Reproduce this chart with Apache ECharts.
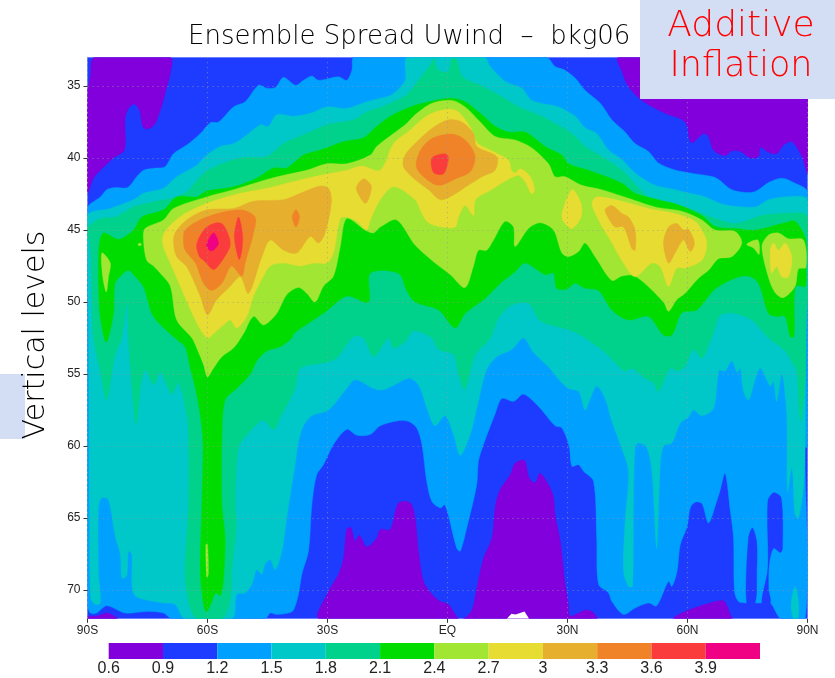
<!DOCTYPE html>
<html><head><meta charset="utf-8">
<style>html,body{margin:0;padding:0;background:#fff}#c{width:835px;height:678px}</style>
<script src="https://cdn.jsdelivr.net/npm/echarts@6/dist/echarts.min.js"></script>
</head><body><div id="c"></div>
<script>
// contour thresholds and band colours
const legendTicks=[0.6,0.9,1.2,1.5,1.8,2.1,2.4,2.7,3,3.3,3.6,3.9,4.2];
const bandColors=['#8200DC','#1E3CFF','#00A0FF','#00C8C8','#00D28C','#00DC00','#A0E632','#E6DC32','#E6AF2D','#F08228','#FA3C3C','#F00082'];
const latTicks=[-90,-60,-30,0,30,60,90];
const latLabels=['90S','60S','30S','EQ','30N','60N','90N'];
const levelTicks=[35,40,45,50,55,60,65,70];

// contour regions, as [latitude, vertical level]
const base09=[[-90,33],[90,33],[90,72],[-90,72]];
const ge12=[[-90,43.5],[-86.8,42.7],[-85.2,42.2],[-83.1,42.05],[-80,42.05],[-77.7,41.3],[-76,40.85],[-73.1,40.7],[-70.6,40.6],[-68.5,39.7],[-65.2,39.1],[-61.8,38.3],[-59.3,37.55],[-57.25,37.5],[-53.5,36.45],[-50.6,36.1],[-47.25,34.95],[-45.2,35.15],[-43,35.1],[-41,34.4],[-38,34.95],[-36,34.6],[-33.9,34.3],[-32.25,34.6],[-27.25,34.35],[-25.2,34.6],[-23.9,33.9],[-23.3,33],[24.7,33],[26.9,33.65],[29.4,33.9],[31.9,34.45],[34.4,35.3],[38.2,36.2],[41.1,37.35],[44.4,38.2],[46.9,39],[50.25,39.55],[52.75,40.35],[56.5,40.8],[59.8,41],[64.4,41.2],[67.3,41.4],[71.1,42.2],[75.7,42.4],[77.75,42.2],[80.25,41.7],[83.6,41.4],[86.9,41.75],[90,42.35],[90,60.1],[89.4,60.1],[89.4,72],[83.4,72],[80.7,70.9],[78.6,70.9],[74.4,70.9],[72.75,70.8],[71.75,70.1],[71.5,66.4],[70.7,64.5],[69.4,61.9],[68.1,63.15],[67.3,63.85],[65.25,65.35],[63.6,64],[61.9,63.9],[60.7,64.3],[59.9,65.6],[58.2,66.85],[57.4,68.7],[56.1,69.75],[55.25,69.4],[52.3,71.1],[50.25,70.9],[46.9,71.25],[44,71.7],[41.1,70.8],[40.25,70.2],[37.75,69.6],[37.3,66.4],[36.5,62.45],[34,61.75],[32.75,61.3],[31.1,61.4],[30.4,60],[28.6,58.75],[26.9,58.6],[22.75,57.25],[19,56.4],[16.5,56.9],[13.6,56.7],[12,57.7],[9,59.9],[7.75,61.05],[7.3,62.7],[4.8,65.7],[3.2,67.3],[2.3,67.1],[-0.6,64.1],[-1.8,64.3],[-3.9,63.85],[-5.2,62.45],[-6.4,59.9],[-7.7,58.75],[-9.75,58.3],[-12.25,58.25],[-16.8,58.6],[-19.3,59.2],[-22.7,59.25],[-25.2,58.85],[-28.5,59.9],[-31,61.3],[-32.7,62],[-33.9,64.1],[-34.75,67.3],[-36.4,68.9],[-37.25,70.3],[-38.5,71.4],[-39.75,71.6],[-42.7,71.7],[-44.3,71.6],[-45.6,72],[-68.9,72],[-71,71.6],[-75.2,71.5],[-80.6,71.6],[-85.2,71.1],[-87.7,71.6],[-89.3,71.6],[-90,71]];
const holeA=[[74.8,70.9],[75.25,66.4],[76.25,65.7],[77.3,66.7],[77.3,68.8],[76.9,70.9]];
const holeB=[[78.6,70.9],[80.1,68.5],[80.1,63.85],[81.5,63.25],[83.4,63.6],[83.75,67.1],[83.2,67.4],[81.5,67.1],[80.4,68.2],[80.25,69.9],[80.7,70.9]];
const purpleTopLeft=[[-88.25,33],[-69.3,33],[-69.3,34.1],[-70.6,35.5],[-71.8,36.7],[-73.3,37.7],[-75.2,38],[-76.2,37.8],[-77,36.7],[-78.3,36.25],[-79.75,36.55],[-80.6,37.25],[-80.8,39.45],[-83.5,40],[-86.8,40.85],[-88.5,41.4],[-90,42.45],[-90,35.4],[-89.3,34.35]];
const purpleTopRight=[[42.75,33],[43.6,34],[45.25,35.05],[48.6,36],[54.4,36.9],[59.4,37.5],[60.7,38.87],[61.5,38.9],[64,38.3],[65.25,38.5],[66.5,39.45],[69.4,39.85],[71.1,39.5],[73.2,39.55],[75.75,40],[77.75,39.9],[78.2,39.25],[80.25,39.6],[82.3,39.7],[84,39.1],[86.1,38.87],[88.6,39.9],[90,41.07],[90,33]];
const purpleBottom=[[-32,72],[-29.75,70.1],[-27.25,68.9],[-26,67.8],[-25.2,65.8],[-24.2,65.65],[-23.1,66.6],[-22,66.2],[-20.2,67],[-17.7,66.4],[-16.8,65.8],[-14.3,65.8],[-12.25,63.95],[-9.3,63.95],[-8.1,65],[-7.25,67.3],[-6,69.4],[-3.9,70.3],[-1.8,70.8],[0.25,71],[2.75,72],[4,72],[6.1,71.4],[7.3,69.9],[9,67.8],[11.1,66.4],[12,64.1],[13.2,63],[15.7,62],[16.9,61.2],[19.25,61],[20.25,62.1],[21.25,62.5],[22.1,62.5],[23.2,61.9],[26.25,63.3],[26.9,64.8],[28.2,66.6],[29.4,69.6],[30.25,71],[30.7,71.8],[34.4,71.4],[36.1,71.5],[37.3,72]];
const purpleBottomLeft=[[-90,71.85],[-87.5,71.8],[-85.2,71.6],[-84,71.7],[-82.5,72],[-90,72]];
const purpleBottomRight=[[56.5,72],[57.75,71.7],[61.1,71.3],[64.4,71],[69,70.75],[70.7,71.7],[71.1,72]];
const ge15=[[-90,43.96],[-84.3,43.5],[-78.5,42.9],[-76,42.45],[-71,42.1],[-67.7,41.3],[-62.7,40.5],[-60.2,39.8],[-56.8,39.2],[-53.5,39],[-50.2,38.4],[-46.8,37.7],[-44.75,37.8],[-42.7,37],[-38.5,37.1],[-34.3,36.9],[-30.2,36.45],[-25.2,36.55],[-20.2,36.1],[-16.8,35.85],[-13.9,35.6],[-10.6,34.6],[-10,33],[9.2,33],[10.7,33.65],[14.5,34.7],[18.6,35.15],[21.1,36],[27.75,36.45],[31.9,37.1],[34.4,37.9],[37.3,38.3],[40.25,39.45],[43.6,40.1],[46.9,41.05],[51.9,41.9],[56.9,42.2],[59.8,42.4],[64.4,42.7],[69.4,43.25],[77,43.4],[80.25,42.9],[84.4,42.7],[90,42.9],[89.6,50],[89.5,54.8],[89.4,60.1],[89,62.9],[87.75,65],[86.9,64.8],[86.1,61.5],[85,63.2],[84.8,57.8],[83.6,55],[82.3,56.9],[81.5,55.5],[80.7,55.85],[78.2,54.6],[77,55.3],[75.3,56.8],[74,56.2],[73.2,54.6],[72.4,54.9],[71.1,54.1],[69.4,54.8],[67.9,54.75],[66.5,57.4],[63.6,57.9],[61.5,57.5],[60.25,58],[58.2,58.4],[56.1,59.8],[54,60],[53.2,61.3],[52.3,67.1],[51.1,61.75],[49.8,60.1],[47.75,59.8],[46.9,60.1],[46.5,64.1],[46.25,69.75],[45.25,69.75],[44,68.7],[44.4,65.2],[45.25,61.75],[43.2,59.9],[41.1,58.3],[39.4,56.7],[37.3,55.85],[35.7,56.7],[34.4,57.5],[32.75,56.2],[30.25,56],[28.2,55.5],[25.25,54.5],[21.5,53.5],[19,52.5],[16.1,53.3],[12.3,53.8],[9.8,54.7],[7.3,57.4],[5.7,59.2],[3.2,60.65],[1.5,59.2],[-0.6,57.9],[-3.1,58.6],[-4.75,57.7],[-6.8,56],[-8.1,55.5],[-9.75,55.3],[-16,56.1],[-18.5,56],[-23.1,55.4],[-25.2,56],[-29.75,57.5],[-33.9,57.9],[-36,58.6],[-37.25,59.7],[-38.1,61.3],[-40.2,65],[-41.4,67.3],[-43.1,68.6],[-44.3,67.9],[-45.6,68.2],[-46.4,68.9],[-47.7,68.6],[-48.9,69.6],[-50.6,70.2],[-52.7,70.3],[-53.9,72],[-65.6,72],[-68.1,71],[-71,70.9],[-75.2,70.7],[-78.1,70.4],[-78.9,69.6],[-78.9,67.55],[-79.75,67.3],[-80.2,69],[-81.4,69.2],[-81.8,67.55],[-83.1,66.2],[-84.75,63.75],[-86.4,63.6],[-87.25,64.3],[-87.25,68.7],[-86.8,70.9],[-88.1,71],[-89.2,70.55],[-89.5,64.1],[-89.7,52],[-90,47]];
const teal15Corner=[[85.9,71],[86.9,69.75],[87.75,70.8],[87.6,72],[86.5,72]];
const ge18=[[-90,44.9],[-86.8,44.2],[-83.1,44.1],[-78.5,43.4],[-75.2,43.15],[-71,42.9],[-67.7,42.7],[-65.2,42.35],[-60.2,40.9],[-51.8,40],[-45.2,39.9],[-41,39],[-35.2,38.3],[-30.2,37.7],[-23.5,37.35],[-20.2,36.8],[-16,36.4],[-10.2,35.6],[-8.1,34.9],[-6,34.15],[-4.3,33.55],[-3.5,33.1],[-2.25,33.9],[0.25,34],[0.9,33.15],[2.3,33.15],[3.2,34.1],[4.4,34.5],[8.6,35],[13.6,35.75],[17.75,36.45],[22.75,37],[26.9,37.6],[31.1,38.3],[34.4,39.2],[38.6,39.9],[43.6,40.85],[50.25,42.7],[55.25,43.15],[60.25,43.5],[66,44.1],[71.9,44.55],[78.6,44],[83.6,43.85],[90,44.1],[89.6,52.5],[89.4,55.5],[88.2,58.3],[87.3,54.8],[86.5,54.35],[84.4,53.4],[80.25,52.5],[78.6,52],[76.1,51.25],[71.9,50.8],[68.2,50.9],[66.9,51.8],[66,52.5],[63.6,53.9],[61.5,53.3],[59.4,54.45],[57.75,54.8],[55.7,54.6],[52.75,56.2],[51.5,55.6],[49.4,55.3],[46.1,54.6],[44.4,54.8],[41.9,54.2],[39.4,53.5],[34.4,52.5],[31.1,52],[23.2,51.3],[20.3,50.1],[16.1,50.2],[12.8,51.1],[10.7,52.5],[7,53.65],[5.7,54.8],[4.25,56.1],[2.75,55],[1.5,53.65],[-2.25,53.3],[-3.9,52.5],[-8.5,52],[-10.6,52.75],[-13.5,53.2],[-14.75,52.5],[-18.5,53.8],[-21,52.5],[-23.5,52.4],[-27.7,53.9],[-30.6,54.2],[-36.8,54.6],[-38.1,56],[-41.8,58],[-43.5,58.85],[-46,58.2],[-48.1,58.6],[-49.75,59.1],[-52.25,60.1],[-53.1,64.1],[-52.8,65.7],[-53.9,68.5],[-54.3,70.6],[-56.4,72],[-62.7,72],[-64.75,70.8],[-65.6,68.7],[-64.75,64.1],[-64.75,59.4],[-65.2,57.8],[-67.25,55.6],[-68.9,56.4],[-71.8,54.9],[-73.5,55.75],[-75.6,54.7],[-76.8,56],[-77.8,58.5],[-78.9,56],[-79.75,52.5],[-80.2,50.1],[-81.4,52.5],[-83.1,53.65],[-85.2,56.8],[-86.8,54.8],[-88.5,52.5],[-88.8,50],[-89.3,46]];
const ge21=[[-87.25,47.1],[-87,45.9],[-86,45.2],[-82.25,45.65],[-78.5,45],[-76.4,44.1],[-71,43.6],[-67.7,42.7],[-62.7,42.7],[-60.2,42.3],[-53.5,42],[-47.7,41.4],[-43.5,40.7],[-40.2,40.7],[-36,39.8],[-31.8,39.45],[-26,38.87],[-21,38.6],[-18.1,37.9],[-14.3,37.1],[-9.3,36.45],[-3.1,36],[1.1,35.85],[4.4,36.1],[8.6,37],[11.9,37.8],[15.25,38.2],[19.4,38.2],[24.4,39.2],[28.6,39.8],[30.25,40.4],[35.25,40.85],[43.6,41.75],[46.9,42.45],[52.75,42.9],[57.75,43.25],[63.6,44],[66.9,44.75],[71.9,44.9],[77,45],[84.4,44.5],[86.9,44.4],[89.6,45.7],[89.6,47.6],[89.4,48.9],[87,48.9],[86.6,52.4],[85.7,52.4],[84.4,51],[82.3,51],[80.25,50.8],[77.75,48.7],[75.25,48.2],[71.9,48.35],[66.9,49.1],[62.3,50.55],[58.6,50.75],[56.1,52.3],[54,52.3],[50.25,51],[45.25,51.25],[41.1,50.55],[37.75,49.2],[34.4,49.05],[31.9,48.7],[29.8,49.1],[27.3,49.05],[26.5,48],[24.4,48.1],[19.4,47.3],[16.9,47.9],[13.6,48.6],[9.4,49.75],[4.4,50.8],[1.9,51.8],[-2.25,50.55],[-8.1,50],[-10.2,49.2],[-12.25,48],[-19.3,48],[-19.75,50],[-25.2,49.6],[-30.6,50.7],[-38.5,52.2],[-38.9,52.5],[-41.8,53.1],[-45.2,53.4],[-47.7,54.1],[-49.3,55],[-52.7,56],[-55.6,56.8],[-56.4,59.4],[-56.4,64.1],[-55.6,66.4],[-56,69.2],[-56.8,70.4],[-58,70.2],[-58.9,70.8],[-60.2,71.5],[-61,71],[-61.8,68.7],[-61.4,64.1],[-61.2,59.4],[-62.7,56.4],[-64.3,54.6],[-65.6,53.1],[-67.7,52.6],[-73.5,51],[-76,48.95],[-78.5,48.1],[-79.75,47.8],[-81.4,48.1],[-83.1,48.7],[-83.5,50.8],[-85.3,52.8],[-86.8,51],[-87.25,48.7]];
const ge24=[[-76,45.7],[-75.6,44.9],[-71,44.3],[-68.5,43.5],[-60.2,42.7],[-53.5,42.2],[-45.2,41.5],[-41,41.2],[-35.2,40.85],[-30.2,40.4],[-25.2,40.4],[-19.3,39.8],[-17.7,39.2],[-13.5,38.3],[-10.2,37.6],[-8.1,37],[-3.9,36.2],[1.1,36],[4.4,36.45],[8.2,37.5],[11.9,38.5],[16.9,38.75],[21.1,39.3],[25.25,40.4],[26.9,41.3],[29.4,41.3],[33.6,41.9],[38.6,42.2],[45.25,42.8],[51.9,43.4],[58.6,43.7],[63.6,44.3],[66.9,45],[71.9,45.1],[73.6,45.9],[71.1,46.85],[67.75,47],[65.25,47.8],[62.75,48.35],[59.4,49.4],[57.3,49.85],[55.25,50.65],[54,50],[46.9,48.2],[43.6,48.2],[41.1,48.5],[36.9,46.85],[34.4,45.9],[32.75,46.5],[30.25,46.85],[28.6,46.6],[26.5,45],[23.2,44.5],[20.25,44.9],[16.9,46.15],[16.5,44.8],[14.4,44.4],[11.5,45.7],[9.8,46.4],[7.75,46.4],[6.5,47.5],[4.4,49],[0.7,48.1],[-3.1,47.3],[-8.1,46.05],[-12.7,44.3],[-16.8,44.8],[-18.5,45.2],[-20.6,45],[-25.2,44.2],[-26.8,46.15],[-28.5,48.2],[-31,48.9],[-33.1,50],[-35.2,49.4],[-37.25,49],[-40.2,49.5],[-42.7,50.8],[-46,51.6],[-48.5,51],[-51,52.2],[-53.5,53.2],[-56.4,53.8],[-58.5,54.6],[-60,55.2],[-61,54.35],[-62.7,53.2],[-63.9,52.5],[-67.7,51.25],[-69.3,48.9],[-71.8,48],[-73.5,47.5],[-75.2,47.1]];
const lime24Left=[[-86.4,46.6],[-84.3,47.3],[-84.75,48.25],[-85.3,49.3],[-86.2,48.25]];
const lime24Dot=[[-77.4,46],[-76.9,45.9],[-76.5,46],[-76.9,46.1]];
const lime24Mid=[[74.8,46],[77.6,45.7],[77.9,46.7],[76.5,46.25]];
const lime24Right=[[78.6,46.15],[80.25,45.35],[82.7,45.2],[85.25,45.6],[89,45.7],[89.6,47.6],[87.75,47.7],[86.9,48.9],[84,49.7],[81.9,49.35],[80.25,48.3]];
const lime24Sliver=[[-60.4,66.85],[-60,66.85],[-59.8,68.9],[-60.2,69.1]];
const green21Hole=[[-16.2,46.1],[-15.2,45.65],[-13.9,46.1],[-15.2,46.45]];
const ge27=[[-71.25,45.9],[-70.6,45.1],[-66.4,44],[-60.2,43.15],[-51.8,42.45],[-45.2,42.1],[-40.2,41.75],[-31.8,41.2],[-25.2,40.85],[-21.4,40.55],[-16.8,40.85],[-13.5,39],[-9.3,38.05],[-4.75,37],[0.25,36.6],[2.75,36.8],[5.7,37.85],[7.3,38.9],[10.7,39.45],[15.25,40.15],[16,40.85],[16.9,41.05],[18.2,40.75],[20.7,41.3],[21.75,42.2],[21,42.5],[19.4,41.65],[17.6,41.2],[11,42.2],[7,42.9],[6.5,44],[4.4,43.3],[2.75,44.1],[1.9,44.8],[-1.4,44.8],[-4.75,44.5],[-6.4,43.85],[-8.1,42.9],[-13.5,42],[-16.8,42.9],[-19.3,44.3],[-20.2,45],[-22.7,44.4],[-25.2,44.1],[-26.8,44.2],[-28.5,46.6],[-30.2,47.3],[-33.5,47.3],[-36.8,47.5],[-41,47.3],[-44.3,47.5],[-46,48.2],[-48.5,49.6],[-50.2,51],[-52.7,51.8],[-54.3,51.25],[-56,51.6],[-58.5,52.2],[-60,52.5],[-61.8,51.9],[-64.3,50.5],[-66.8,48.9],[-69.3,47.3]];
const yellow27A=[[28.6,43.85],[31.1,42.2],[33.4,43.15],[33.4,44.1],[31.1,44.9],[29,44.4]];
const yellow27B=[[36.1,43.15],[37.3,42.7],[43.6,43],[50.25,43.5],[56.9,43.85],[61.9,44.4],[64.4,45.45],[64.8,46.15],[63.6,47.1],[59.4,47.65],[57.3,47.65],[55.25,48.9],[53.2,47.55],[51.1,47.3],[46.9,48.25],[44,47.3],[40.7,45.7],[37.75,44.3]];
const yellow27C=[[80.7,46.4],[81.5,45.9],[82.8,46.4],[84.4,45.9],[86.1,46.85],[85.25,48.25],[83.6,48.25],[82.3,47.55],[81,48]];
const ge30=[[-68.5,45.9],[-68.1,45.2],[-65.2,44.3],[-60.2,43.6],[-53.5,43.5],[-48.5,43],[-41,42.9],[-36.8,42.45],[-31.8,41.95],[-29.75,42.1],[-29,43],[-30.6,45.2],[-32.25,45.9],[-34.3,45.45],[-37.7,46.6],[-41,46.4],[-44.3,45.7],[-46.4,46.85],[-49.75,49.4],[-51.8,48.25],[-54.3,48.9],[-57.7,49.85],[-60,50.9],[-61.8,49.6],[-65.2,47.55],[-67.7,46.85]];
const gold30B=[[-22.8,42.1],[-21,41.45],[-19,42],[-20.5,43.15]];
const gold30Eq=[[-8.1,39],[-3.9,37.95],[0.25,37.35],[3.6,37.5],[6.5,38.3],[7.3,39.2],[12.3,39.9],[11.9,40.85],[8.6,41.3],[6,41.75],[-1.4,42.9],[-4.75,42.2],[-8.1,41.5],[-11,40.6],[-10.6,39.8]];
const gold30C=[[39.4,43.6],[41.1,43.3],[43.6,43.85],[45.25,44.1],[46.9,45],[46.9,46.4],[46.1,46.3],[44,44.8],[41.9,44.8],[40.7,44.4]];
const gold30D=[[54,45.9],[55.25,44.8],[57.3,44.55],[59,45],[60.25,44.95],[61.75,45.9],[60.7,46.5],[59,45.7],[56.9,46.6],[55.25,47.3]];
const ge33=[[-66,45.8],[-65.6,45],[-60.2,44.1],[-51.8,43.6],[-48.1,44.1],[-48.5,45.2],[-50.6,47.3],[-51.4,48.2],[-54,47.5],[-56.4,48.7],[-59,49.2],[-61,48.7],[-63,47.3],[-65.6,46.4]];
const orange33B=[[-38.8,44.1],[-37.9,43.6],[-37,44.1],[-37.9,44.8]];
const orange33Eq=[[-7.7,40.15],[-6.4,39.3],[-3.5,38.6],[1.5,38.35],[4.8,38.85],[6.9,39.9],[5.7,40.95],[2.3,41.4],[-2.25,41.9],[-6,41.3],[-7.7,40.7]];
const ge36=[[-62.7,46],[-60.6,44.9],[-57.7,44.5],[-56,44.65],[-54.3,46],[-56.8,47.3],[-58.5,47.75],[-61,47.1],[-62,46.85]];
const red36B=[[-53.25,45.25],[-52.25,44.1],[-51.25,45.25],[-51.4,46.4],[-52.1,47.05],[-53.1,45.95]];
const red36Eq=[[-3.9,40],[-0.6,39.7],[0.25,40],[-1,41.1],[-3.5,41]];
const ge39=[[-60.2,46],[-58.5,45.2],[-57.25,45.9],[-58.5,46.4],[-59.5,46.4]];
const missing=[[14.8,72],[16,71.65],[17,71.7],[19.25,71.5],[20.4,72]];

// painter's order: [region, band index]
const layers=[[base09,1],[ge12,2],[holeA,1],[holeB,1],[purpleTopLeft,0],[purpleTopRight,0],[purpleBottom,0],[purpleBottomLeft,0],[purpleBottomRight,0],[ge15,3],[teal15Corner,3],[ge18,4],[ge21,5],[ge24,6],[lime24Left,6],[lime24Dot,6],[lime24Mid,6],[lime24Right,6],[lime24Sliver,6],[green21Hole,5],[ge27,7],[yellow27A,7],[yellow27B,7],[yellow27C,7],[ge30,8],[gold30B,8],[gold30Eq,8],[gold30C,8],[gold30D,8],[ge33,9],[orange33B,9],[orange33Eq,9],[ge36,10],[red36B,10],[red36Eq,10],[ge39,11]];

const chart=echarts.init(document.getElementById('c'),null,{renderer:'canvas'});
const dots={color:'#9a9a9a',opacity:0.75,width:1,type:[1,4]};
chart.setOption({
  animation:false,
  backgroundColor:'#fff',
  title:{text:'Ensemble Spread Uwind  \u2013  bkg06',left:183,top:19,textStyle:{fontFamily:'DejaVu Sans',fontWeight:200,fontSize:26,color:'#000'}},
  grid:[{left:87.5,top:57.2,width:720,height:561.6},{left:108.7,top:643,width:651.3,height:16}],
  xAxis:[
    {gridIndex:0,type:'value',min:-90,max:90,interval:30,z:10,
     axisLine:{show:false},axisTick:{length:4,lineStyle:{color:'#333'}},
     axisLabel:{margin:6,fontFamily:'Liberation Sans',fontSize:12,color:'#222',formatter:v=>latLabels[latTicks.indexOf(v)]},
     splitLine:{show:true,lineStyle:dots}},
    {gridIndex:1,type:'value',min:0.6,max:4.2,interval:0.3,
     axisLine:{show:false},axisTick:{show:false},splitLine:{show:false},
     axisLabel:{margin:2,fontFamily:'Liberation Sans',fontSize:16,color:'#222',formatter:v=>v>=4.1?'':String(+v.toFixed(1))}}
  ],
  yAxis:[
    {gridIndex:0,type:'value',min:33,max:72,inverse:true,z:10,
     axisLine:{show:true,onZero:false,lineStyle:dots},axisTick:{length:4,lineStyle:{color:'#333'},customValues:levelTicks},
     axisLabel:{margin:7,fontFamily:'Liberation Sans',fontSize:12,color:'#222',customValues:levelTicks},
     splitLine:{show:true,lineStyle:dots}},
    {gridIndex:1,type:'value',min:0,max:1,show:false}
  ],
  series:[
    {type:'custom',xAxisIndex:0,yAxisIndex:0,silent:true,clip:true,
     data:layers.map((l,i)=>[i]),
     renderItem:(p,api)=>{const l=layers[p.dataIndex];
       return {type:'polygon',shape:{points:l[0].map(c=>api.coord(c)),smooth:l[0]===base09?0:0.3},style:{fill:bandColors[l[1]],stroke:bandColors[l[1]],lineWidth:0.4}};}},
    {type:'custom',xAxisIndex:0,yAxisIndex:0,silent:true,clip:true,z:3,data:[[0]],
     renderItem:(p,api)=>({type:'polygon',shape:{points:missing.map(c=>api.coord(c))},style:{fill:'#fff'}})},
    {type:'custom',xAxisIndex:1,yAxisIndex:1,silent:true,
     data:bandColors.map((c,i)=>[i]),
     renderItem:(p,api)=>{const i=p.dataIndex;const a=api.coord([legendTicks[i],1]),b=api.coord([legendTicks[i+1],0]);
       return {type:'rect',shape:{x:a[0],y:a[1],width:b[0]-a[0],height:b[1]-a[1]},style:{fill:bandColors[i]}};}}
  ],
  graphic:[
    {type:'rect',z:100,shape:{x:640,y:0,width:195,height:99},style:{fill:'#D3DEF5'}},
    {type:'text',z:101,style:{x:741,y:27,text:'Additive',fill:'#F00',font:'200 36px "DejaVu Sans"',textAlign:'center',textVerticalAlign:'middle'}},
    {type:'text',z:101,style:{x:741,y:67,text:'Inflation',fill:'#F00',font:'200 35px "DejaVu Sans"',textAlign:'center',textVerticalAlign:'middle'}},
    {type:'rect',z:100,shape:{x:0,y:374,width:25,height:65},style:{fill:'#D3DEF5'}},
    {type:'text',z:101,x:36,y:335,rotation:Math.PI/2,style:{x:0,y:0,text:'Vertical levels',fill:'#000',font:'200 30px "DejaVu Sans"',textAlign:'center',textVerticalAlign:'middle'}}
  ]
});
</script></body></html>
